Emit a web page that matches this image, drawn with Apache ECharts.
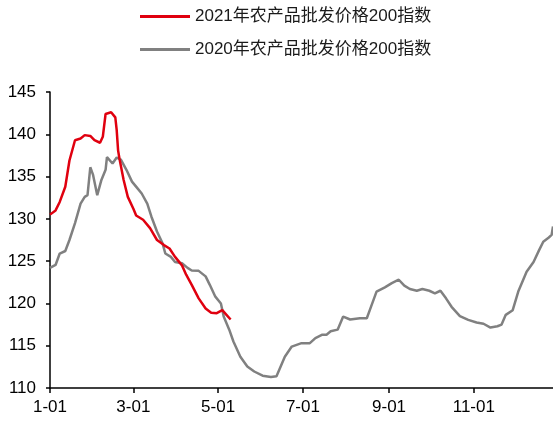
<!DOCTYPE html>
<html>
<head>
<meta charset="utf-8">
<script src="https://cdn.jsdelivr.net/npm/echarts@6/dist/echarts.min.js"></script>
<style>
html,body{margin:0;padding:0;background:#fff;}
#main{width:553px;height:421px;}
</style>
</head>
<body>
<div id="main"></div>
<script>
// Day of year (0 = Jan 1) and index values
var tickDays = [0, 60, 121, 182, 244, 305];
var tickLabels = ['1-01', '3-01', '5-01', '7-01', '9-01', '11-01'];

var name2021 = '2021年农产品批发价格200指数';
var name2020 = '2020年农产品批发价格200指数';

var days2021 = [0, 4, 7, 11, 14, 18, 22, 25, 29, 32, 36, 38, 40, 44, 47, 48, 49, 50, 53, 56, 60, 62, 67, 72, 77, 82, 86, 90, 95, 98, 102, 107, 112, 116, 120, 124, 127, 130];
var values2021 = [130.5, 131.0, 132.0, 133.8, 136.9, 139.3, 139.5, 139.9, 139.8, 139.3, 139.0, 139.7, 142.4, 142.6, 142.0, 140.5, 138.1, 137.1, 134.6, 132.6, 131.2, 130.4, 129.9, 128.9, 127.5, 126.9, 126.5, 125.5, 124.5, 123.4, 122.2, 120.6, 119.4, 118.9, 118.85, 119.2, 118.65, 118.1];

var days2020 = [0, 4, 7, 11, 14, 18, 22, 25, 27, 29, 31, 34, 37, 40, 41, 45, 48, 51, 55, 59, 63, 66, 70, 73, 77, 81, 83, 87, 90, 95, 99, 102, 107, 112, 115, 119, 123, 125, 129, 132, 137, 142, 147, 153, 159, 163, 166, 169, 174, 181, 187, 191, 196, 199, 202, 207, 211, 216, 223, 228, 231, 235, 241, 246, 251, 255, 259, 264, 268, 273, 277, 281, 285, 289, 295, 301, 307, 312, 317, 322, 325, 328, 333, 337, 343, 348, 352, 355, 359, 361, 362];
var values2020 = [124.2, 124.55, 125.9, 126.2, 127.5, 129.5, 131.8, 132.6, 132.8, 136.1, 135.2, 132.8, 134.6, 135.8, 137.3, 136.55, 137.25, 137.0, 135.8, 134.4, 133.6, 133.0, 131.8, 130.25, 128.5, 127.1, 125.9, 125.5, 124.9, 124.75, 124.2, 123.9, 123.85, 123.2, 122.2, 120.8, 120.0, 118.45, 116.9, 115.5, 113.7, 112.55, 111.95, 111.45, 111.3, 111.4, 112.55, 113.7, 114.9, 115.3, 115.3, 115.9, 116.3, 116.3, 116.7, 116.9, 118.45, 118.1, 118.25, 118.25, 119.6, 121.4, 121.9, 122.4, 122.8, 122.1, 121.7, 121.5, 121.7, 121.5, 121.2, 121.5, 120.6, 119.6, 118.5, 118.05, 117.75, 117.6, 117.15, 117.3, 117.5, 118.65, 119.2, 121.4, 123.75, 124.9, 126.3, 127.3, 127.8, 128.1, 129.1];

function zip(xs, ys) {
  return xs.map(function (x, i) { return [x, ys[i]]; });
}

var chart = echarts.init(document.getElementById('main'));
var fontCJK = "'Liberation Sans', 'Noto Sans CJK SC', sans-serif";
chart.setOption({
  animation: false,
  backgroundColor: '#ffffff',
  legend: {
    orient: 'vertical',
    left: 135,
    top: 3,
    itemWidth: 50,
    itemHeight: 3,
    itemGap: 16,
    icon: 'rect',
    textStyle: { fontFamily: fontCJK, fontSize: 17, color: '#1a1a1a' },
    data: [name2021, name2020]
  },
  grid: { left: 50, right: 0, top: 92, bottom: 33, containLabel: false },
  xAxis: {
    type: 'value',
    min: 0,
    max: 362,
    splitLine: { show: false },
    axisLine: { lineStyle: { color: '#000', width: 1.5 } },
    axisTick: { show: true, length: 5, lineStyle: { color: '#000', width: 1.5 }, customValues: tickDays },
    axisLabel: {
      customValues: tickDays,
      margin: 11,
      fontFamily: fontCJK,
      fontSize: 17,
      color: '#000',
      formatter: function (v) {
        var i = tickDays.indexOf(Math.round(v));
        return i >= 0 ? tickLabels[i] : '';
      }
    }
  },
  yAxis: {
    type: 'value',
    min: 110,
    max: 145,
    interval: 5,
    splitLine: { show: false },
    axisLine: { show: true, lineStyle: { color: '#000', width: 1.5 } },
    axisTick: { show: true, length: 4, lineStyle: { color: '#000', width: 1.5 } },
    axisLabel: { margin: 14, fontFamily: fontCJK, fontSize: 17, color: '#000' }
  },
  series: [
    {
      name: name2021,
      type: 'line',
      symbol: 'none',
      z: 3,
      color: '#E0000F',
      lineStyle: { color: '#E0000F', width: 2.5 },
      data: zip(days2021, values2021)
    },
    {
      name: name2020,
      type: 'line',
      symbol: 'none',
      z: 2,
      color: '#808080',
      lineStyle: { color: '#808080', width: 2.5 },
      data: zip(days2020, values2020)
    }
  ]
});
</script>
</body>
</html>
